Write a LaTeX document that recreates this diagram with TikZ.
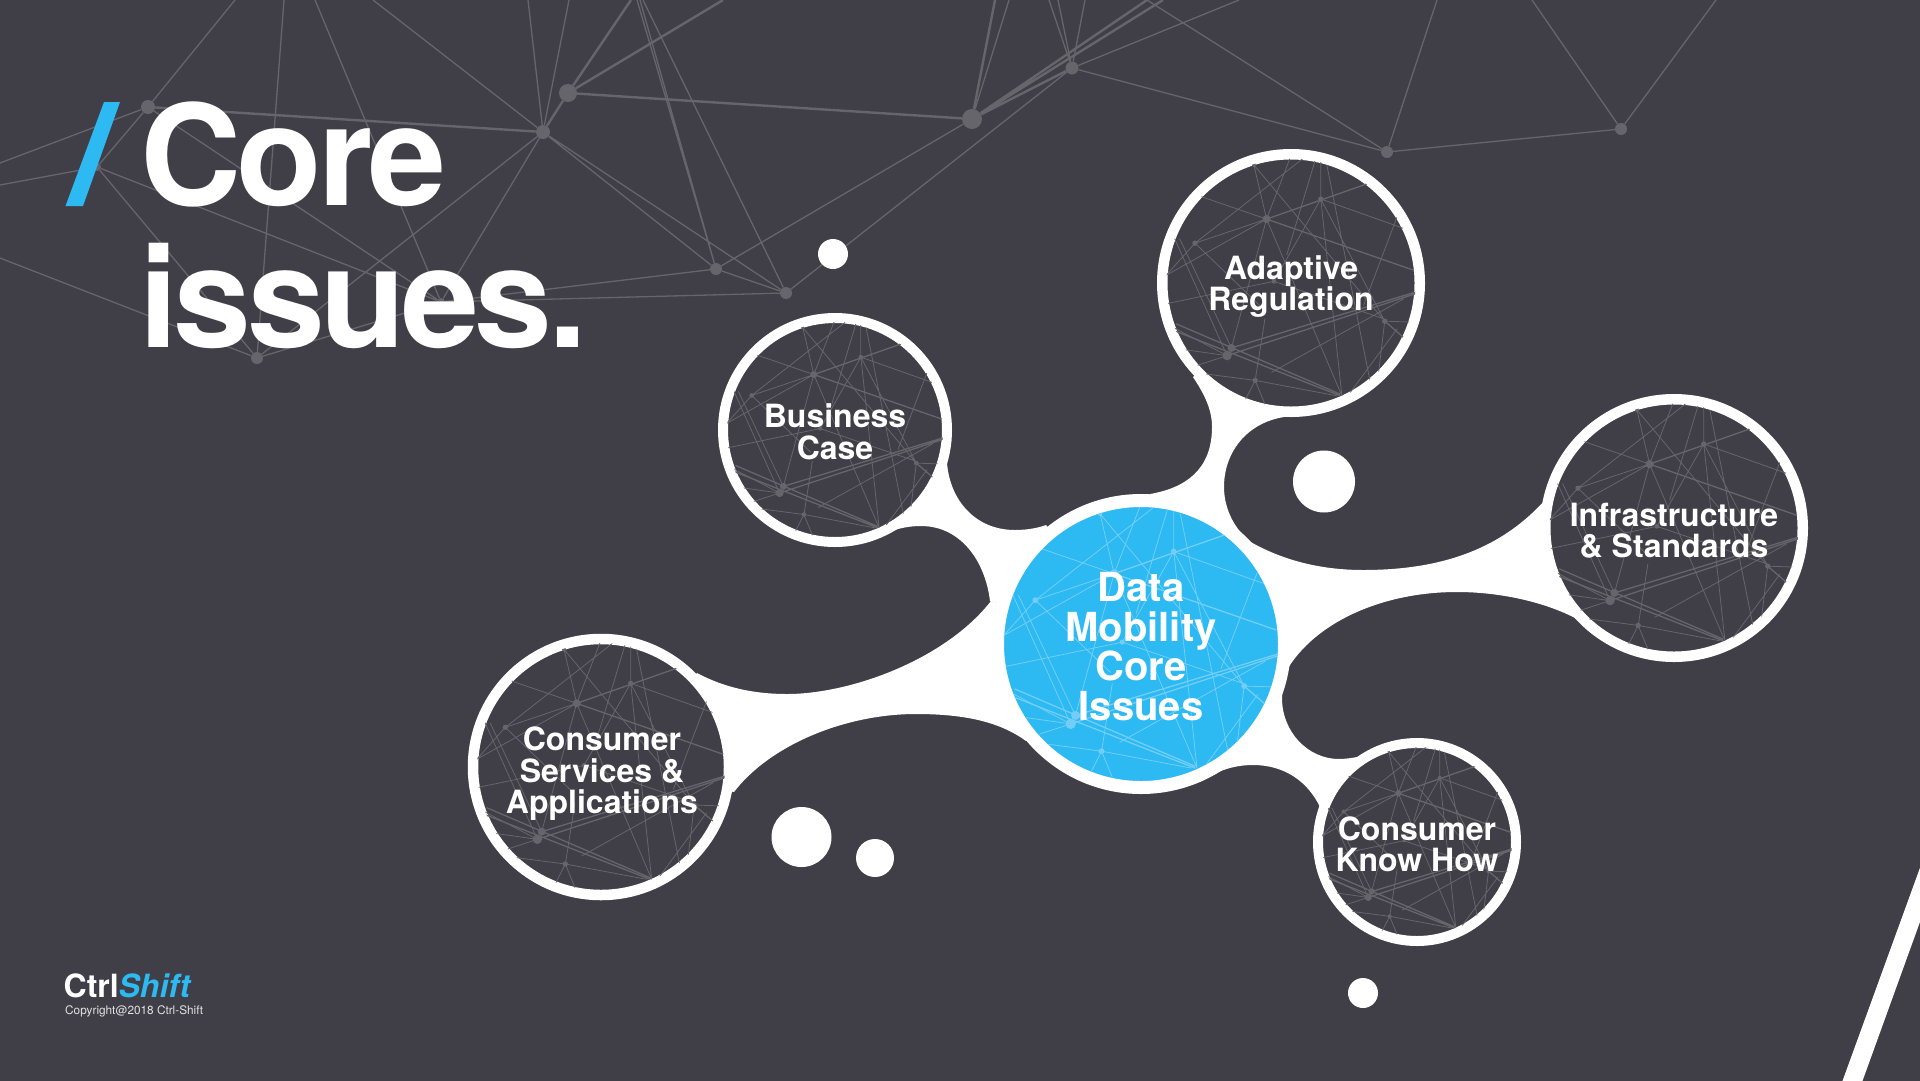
\documentclass[tikz,border=0pt]{standalone}
\usepackage{fontspec}
\setmainfont{TeX Gyre Heros}
\newfontfamily\titlefont[LetterSpace=-3.2]{TeX Gyre Heros}
\usetikzlibrary{calc, backgrounds}
\definecolor{slatebg}{HTML}{403F47}
\definecolor{skyblue}{HTML}{2DB9F2}
\definecolor{netgray}{HTML}{66656B}
\definecolor{netsky}{HTML}{72CEF6}
\newcommand{\netpattern}{%
    \draw[line width=0.8pt, draw=netink]
        (312,70) -- (350,232) (312,70) -- (703,537) (460,50) -- (136,304) (420,50) -- (350,232)
        (155,165) -- (350,232) (350,232) -- (136,304) (136,304) -- (50,400) (350,232) -- (50,400)
        (350,232) -- (245,617) (350,232) -- (575,760) (512,172) -- (372,418) (497,50) -- (410,340)
        (512,50) -- (512,172) (530,70) -- (660,720) (512,172) -- (760,260) (512,172) -- (703,537)
        (512,172) -- (575,760) (740,225) -- (640,490) (703,537) -- (790,540) (703,537) -- (680,730)
        (50,485) -- (372,418) (372,418) -- (700,530) (136,304) -- (340,500) (75,290) -- (232,640)
        (90,290) -- (245,617) (60,550) -- (232,640) (90,620) -- (232,640) (232,640) -- (140,670)
        (316,714) -- (170,695) (316,714) -- (560,760) (316,714) -- (345,785) (316,714) -- (285,775)
        (345,530) -- (316,714) (760,470) -- (365,690) (600,750) -- (740,560);
    \draw[line width=1.3pt, draw=netink]
        (350,232) -- (655,125) (350,232) -- (790,385) (245,617) -- (795,450) (232,640) -- (795,455)
        (60,560) -- (570,760) (80,545) -- (570,755) (703,537) -- (770,595);
    \fill[netink] (350,232) circle [radius=12] (512,172) circle [radius=8] (136,304) circle [radius=8]
        (372,418) circle [radius=7] (703,537) circle [radius=8] (245,617) circle [radius=12]
        (232,640) circle [radius=14] (316,714) circle [radius=8] (312,70) circle [radius=6];
}
% node, inner radius, colour of the lines
\newcommand{\netdisc}[3]{%
    \begin{scope}
        \clip (#1.center) circle [radius=#2];
        \colorlet{netink}{#3}
        \begin{scope}[shift={(#1.center)}, scale=#2/372, shift={(-423,-423)}]
            \netpattern
        \end{scope}
    \end{scope}
}
\tikzstyle{satellite} = [circle, inner sep=0pt, draw=white, fill=slatebg]
\tikzstyle{hubnode} = [circle, inner sep=0pt, draw=white, line width=13pt, fill=skyblue, minimum size=287pt]
\tikzstyle{satlabel} = [align=center, text=white, inner sep=0pt, font=\fontsize{32}{31.5}\selectfont\bfseries]
\tikzstyle{hublabel} = [align=center, text=white, inner sep=0pt, font=\fontsize{40}{39.4}\selectfont\bfseries]
\tikzstyle{whitedot} = [circle, fill=white, inner sep=0pt]
\tikzstyle{netdot} = [circle, fill=netgray, inner sep=0pt]
\tikzstyle{titletext} = [anchor=base west, inner sep=0pt, text=white, font=\fontsize{140}{142}\titlefont\bfseries]
\tikzstyle{netthin} = [line width=1.3pt, draw=netgray]
\tikzstyle{netthick} = [line width=2.4pt, draw=netgray]
\tikzstyle{blob} = [fill=white]

\begin{document}
\begin{tikzpicture}[x=1pt, y=-1pt]
    \useasboundingbox (0,0) rectangle (1920,1080);

    % Nodes
    \node (hub) [hubnode] at (1141,644) {};
    \node (business) [satellite, line width=10pt, minimum size=224pt] at ($(hub)+(-306,-214)$) {};
    \node (adaptive) [satellite, line width=10.5pt, minimum size=257.5pt] at ($(hub)+(150,-361)$) {};
    \node (infra) [satellite, line width=10.5pt, minimum size=257.5pt] at ($(hub)+(533,-116)$) {};
    \node (knowhow) [satellite, line width=10pt, minimum size=198pt] at ($(hub)+(276,198)$) {};
    \node (services) [satellite, line width=10.5pt, minimum size=256pt] at ($(hub)+(-540,123)$) {};

    \netdisc{hub}{137}{netsky}
    \netdisc{business}{108}{netgray}
    \netdisc{adaptive}{124.5}{netgray}
    \netdisc{infra}{124.5}{netgray}
    \netdisc{knowhow}{95}{netgray}
    \netdisc{services}{124}{netgray}

    \node (t1) [hublabel] at ($(hub.center)+(0,2.5)$) {Data\\Mobility\\Core\\Issues};
    \node (t2) [satlabel] at ($(business.center)+(0,2)$) {Business\\Case};
    \node (t3) [satlabel] at ($(adaptive.center)+(0,3.5)$) {Adaptive\\Regulation};
    \node (t4) [satlabel] at ($(infra.center)+(0,2.5)$) {Infrastructure\\\& Standards};
    \node (t5) [satlabel] at ($(knowhow.center)+(0,2.5)$) {Consumer\\Know How};
    \node (t6) [satlabel] at ($(services.center)+(1,7)$) {Consumer\\Services \&\\Applications};

    \node (dot1) [whitedot, minimum size=30pt] at (833,254) {};
    \node (dot2) [whitedot, minimum size=62pt] at (1324,481.5) {};
    \node (dot3) [whitedot, minimum size=60pt] at (801.5,837) {};
    \node (dot4) [whitedot, minimum size=38pt] at (875,858) {};
    \node (dot5) [whitedot, minimum size=30pt] at (1363,993) {};

    % Title and logo
    \fill[skyblue] (104,102) -- (120,102) -- (83,206) -- (65.5,206) -- cycle;
    \node (coretitle) [titletext] at (140,205) {Core};
    \node (issuestitle) [titletext] at (139,347) {issues.};
    \node (logo) [anchor=base west, inner sep=0pt, text=white, font=\fontsize{32}{33}\selectfont\bfseries] at (63.5,997) {Ctrl\textcolor{skyblue}{\itshape Shift}};
    \node (copyright) [anchor=base west, inner sep=0pt, text=white!85!slatebg, font=\fontsize{11.8}{13}\selectfont] at (65,1014) {Copyright@2018 Ctrl-Shift};

    \begin{scope}[on background layer]
        \fill[slatebg] (-5,-5) rectangle (1925,1085);
        \fill[white] (1841,1085) -- (1861,1085) -- (1925,908) -- (1925,854) -- cycle;

        % Backdrop network
        \node (net1) [netdot, minimum size=14pt] at (148,107) {};
        \node (net2) [netdot, minimum size=18pt] at (568,93) {};
        \node (net3) [netdot, minimum size=14pt] at (543,132) {};
        \node (net4) [netdot, minimum size=8pt] at (97,167) {};
        \node (net5) [netdot, minimum size=12pt] at (716,269) {};
        \node (net6) [netdot, minimum size=12pt] at (786,293) {};
        \node (net7) [netdot, minimum size=12pt] at (257,358) {};
        \node (net8) [netdot, minimum size=8pt] at (441,302) {};
        \node (net9) [netdot, minimum size=20pt] at (972,119) {};
        \node (net10) [netdot, minimum size=13pt] at (1072,68) {};
        \node (net11) [netdot, minimum size=12pt] at (1387,152) {};
        \node (net12) [netdot, minimum size=12pt] at (1621,129) {};
        \coordinate (top1) at (235,0);
        \coordinate (top2) at (284,0);
        \coordinate (top3) at (315,0);
        \coordinate (top4) at (373,0);
        \coordinate (top5) at (528,0);
        \coordinate (top6) at (569,0);
        \coordinate (top7) at (631,0);
        \coordinate (top8) at (637,0);
        \coordinate (top9) at (640,0);
        \coordinate (top10) at (643,0);
        \coordinate (top11) at (723,0);
        \coordinate (top12) at (995,0);
        \coordinate (top13) at (1009,0);
        \coordinate (top14) at (1049,0);
        \coordinate (top15) at (1058,0);
        \coordinate (top16) at (1085,0);
        \coordinate (top17) at (1147,0);
        \coordinate (top18) at (1163,0);
        \coordinate (top19) at (1239,0);
        \coordinate (top20) at (1437,0);
        \coordinate (top21) at (1532,0);
        \coordinate (top22) at (1716,0);
        \coordinate (left1) at (0,163);
        \coordinate (left2) at (0,185);
        \coordinate (left3) at (0,258);

        \draw[netthin] (net1) -- (top1) (net1) -- (left1) (net1) -- (net4) (net4) -- (left2) (net4) -- (net7)
            (net4) -- (net8) (top2) -- (net7) (top3) -- (net8) (top4) -- (net3) (top5) -- (net3)
            (top6) -- (net3) (net1) -- (net8) (net3) -- (net7) (net3) -- (net8) (net3) -- (net5)
            (net3) -- (net6) (top8) -- (net5) (top9) -- (net5) (top10) -- (net6) (net8) -- (net5)
            (net8) -- (net6) (net5) -- (net6) (left3) -- (net7) (net7) -- (net8) (net6) -- (net10)
            (net5) -- (net9) (top13) -- (net9) (top14) -- (net10) (top15) -- (net10) (top16) -- (net10)
            (top19) -- (net10) (net10) -- (net11) (top17) -- (net11) (top20) -- (net11) (net11) -- (net12)
            (top21) -- (net12) (top22) -- (net12);
        \draw[netthick] (net1) -- (net3) (net2) -- (top11) (net2) -- (net9) (net2) -- (net3) (net2) -- (top7)
            (net9) -- (top12) (net9) -- (top17) (net9) -- (top18) (net9) -- (net10);

        % Connectors
        \fill[blob] (business.center) -- (947,463) .. controls (950,500) and (975,530) .. (1015,530)
            .. controls (1027,530) and (1038,528) .. (1046,525) -- (hub.center) -- (990,601)
            .. controls (985,560) and (960,526) .. (921,526) .. controls (905,526) and (893,530) .. (881,535) -- cycle;
        \fill[blob] (services.center) -- (697,673) .. controls (725,688) and (755,694) .. (787,694)
            .. controls (850,694) and (945,660) .. (991,601) -- (hub.center) -- (1026,741)
            .. controls (1000,722) and (965,714) .. (916,714) .. controls (845,714) and (770,745) .. (734,792) -- cycle;
        \fill[blob] (adaptive.center) -- (1193,377) .. controls (1205,395) and (1212,410) .. (1212,427)
            .. controls (1212,470) and (1185,488) .. (1150,494) -- (hub.center) -- (1249,541)
            .. controls (1233,527) and (1224,507) .. (1224,487) .. controls (1224,450) and (1250,418) .. (1294,416) -- cycle;
        \fill[blob] (infra.center) -- (1545,500) .. controls (1500,550) and (1440,570) .. (1363,570)
            .. controls (1325,570) and (1285,562) .. (1249,541) -- (hub.center) -- (1290,665)
            .. controls (1320,620) and (1385,592) .. (1457,592) .. controls (1500,592) and (1545,602) .. (1577,619) -- cycle;
        \fill[blob] (knowhow.center) -- (1357,757) .. controls (1352,758) and (1345,759) .. (1339,759)
            .. controls (1308,759) and (1282,732) .. (1282,698) .. controls (1282,687) and (1284,675) .. (1290,665)
            -- (hub.center) -- (1200,782) .. controls (1215,772) and (1232,765) .. (1253,765)
            .. controls (1285,765) and (1308,782) .. (1320,807) -- cycle;
    \end{scope}
\end{tikzpicture}
\end{document}
